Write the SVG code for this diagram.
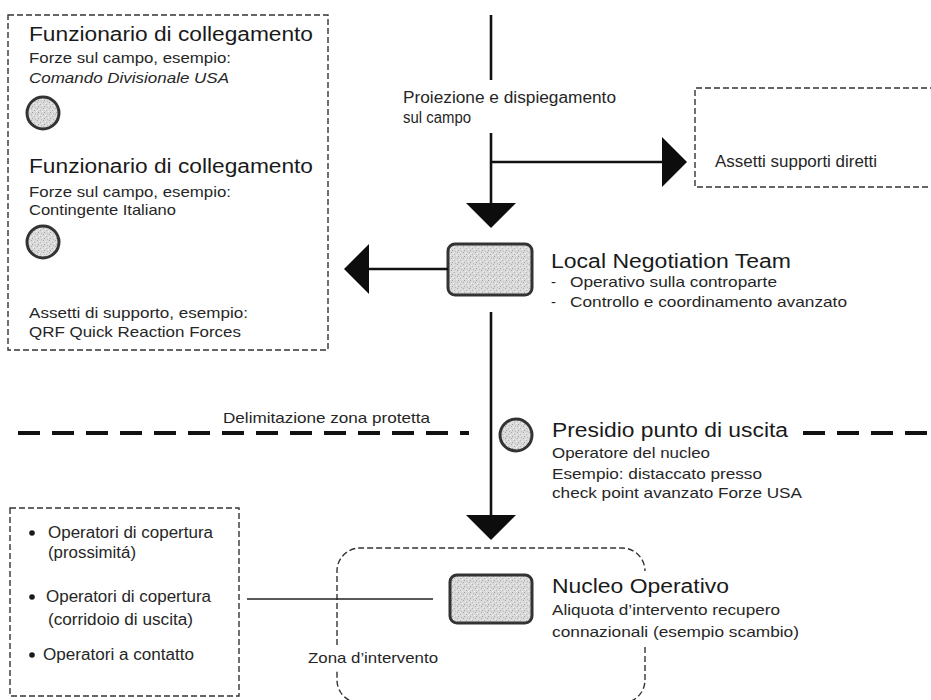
<svg xmlns="http://www.w3.org/2000/svg" width="931" height="700" viewBox="0 0 931 700">
  <defs>
    <style>
      text { font-family: "Liberation Sans", Arial, sans-serif; fill: #1a1a1a; }
      .t { font-size: 20px; }
      .s { font-size: 15px; fill: #262626; }
      .m { font-size: 16px; fill: #262626; }
      .dash { fill: none; stroke: #333; stroke-width: 1.4; stroke-dasharray: 6 3; }
      .line { fill: none; stroke: #111; stroke-width: 2.6; }
      .thin { fill: none; stroke: #222; stroke-width: 1.5; }
      .border { fill: none; stroke: #111; stroke-width: 4; stroke-dasharray: 22 12; }
      .unit { fill: url(#grain); stroke: #333; stroke-width: 3; }
      .post { fill: url(#grain); stroke: #333; stroke-width: 3; }
      .dot { fill: #1a1a1a; }
    </style>
    <!-- stippled grey fill used for units and posts -->
    <pattern id="grain" width="6" height="6" patternUnits="userSpaceOnUse">
      <rect width="6" height="6" fill="#dadada"/>
      <rect x="1" y="0" width="1" height="1" fill="#a9a9a9"/>
      <rect x="4" y="2" width="1" height="1" fill="#b4b4b4"/>
      <rect x="2" y="4" width="1" height="1" fill="#a0a0a0"/>
      <rect x="5" y="5" width="1" height="1" fill="#bcbcbc"/>
      <rect x="0" y="3" width="1" height="1" fill="#f2f2f2"/>
      <rect x="3" y="1" width="1" height="1" fill="#f0f0f0"/>
    </pattern>
    <marker id="head" viewBox="0 0 25 50" refX="0" refY="25" markerWidth="25" markerHeight="50" markerUnits="userSpaceOnUse" orient="auto">
      <path d="M0,0 L25,25 L0,50 Z" fill="#0d0d0d"/>
    </marker>
  </defs>

  <rect width="931" height="700" fill="#ffffff"/>

  <!-- liaison officers panel -->
  <g id="liaison">
    <rect class="dash" x="8" y="15" width="320" height="335"/>
    <text class="t" x="29" y="41" font-size="19" textLength="284" lengthAdjust="spacingAndGlyphs">Funzionario di collegamento</text>
    <text class="s" x="29" y="63" textLength="202" lengthAdjust="spacingAndGlyphs">Forze sul campo, esempio:</text>
    <text class="s" x="29" y="83" font-style="italic" textLength="200" lengthAdjust="spacingAndGlyphs">Comando Divisionale USA</text>
    <circle class="post" cx="43" cy="113" r="16"/>
    <text class="t" x="29" y="173" font-size="19" textLength="284" lengthAdjust="spacingAndGlyphs">Funzionario di collegamento</text>
    <text class="s" x="29" y="197" textLength="202" lengthAdjust="spacingAndGlyphs">Forze sul campo, esempio:</text>
    <text class="s" x="29" y="215" textLength="147" lengthAdjust="spacingAndGlyphs">Contingente Italiano</text>
    <circle class="post" cx="43" cy="242" r="16"/>
    <text class="s" x="29" y="318" textLength="219" lengthAdjust="spacingAndGlyphs">Assetti di supporto, esempio:</text>
    <text class="s" x="29" y="337" textLength="212" lengthAdjust="spacingAndGlyphs">QRF Quick Reaction Forces</text>
  </g>

  <!-- deployment label -->
  <g id="deployment">
    <text class="m" x="403" y="103" textLength="213" lengthAdjust="spacingAndGlyphs">Proiezione e dispiegamento</text>
    <text class="m" x="403" y="123" textLength="68" lengthAdjust="spacingAndGlyphs">sul campo</text>
  </g>

  <!-- direct support assets -->
  <g id="direct-support">
    <path class="dash" d="M936 88 H695 V187 H936"/>
    <text class="m" x="715" y="167" textLength="162" lengthAdjust="spacingAndGlyphs">Assetti supporti diretti</text>
  </g>

  <!-- local negotiation team -->
  <g id="lnt">
    <rect class="unit" x="448" y="244" width="84" height="51" rx="7"/>
    <text class="t" x="551" y="268" font-size="21" textLength="240" lengthAdjust="spacingAndGlyphs">Local Negotiation Team</text>
    <text class="s" x="551" y="287">-</text>
    <text class="s" x="570" y="287" textLength="207" lengthAdjust="spacingAndGlyphs">Operativo sulla controparte</text>
    <text class="s" x="551" y="307">-</text>
    <text class="s" x="570" y="307" textLength="277" lengthAdjust="spacingAndGlyphs">Controllo e coordinamento avanzato</text>
  </g>

  <!-- protected zone boundary -->
  <g id="boundary">
    <path class="border" d="M18 433 H469 M803 433 H931"/>
    <text class="s" x="223" y="423" textLength="207" lengthAdjust="spacingAndGlyphs">Delimitazione zona protetta</text>
  </g>

  <!-- exit point post -->
  <g id="exit-post">
    <circle class="post" cx="516" cy="435" r="16"/>
    <text class="t" x="552" y="437" textLength="236" lengthAdjust="spacingAndGlyphs">Presidio punto di uscita</text>
    <text class="s" x="552" y="458" textLength="158" lengthAdjust="spacingAndGlyphs">Operatore del nucleo</text>
    <text class="s" x="552" y="479" textLength="210" lengthAdjust="spacingAndGlyphs">Esempio: distaccato presso</text>
    <text class="s" x="552" y="498" textLength="250" lengthAdjust="spacingAndGlyphs">check point avanzato Forze USA</text>
  </g>

  <!-- intervention zone -->
  <g id="zone">
    <path class="dash" d="M337 645 V571 A23 23 0 0 1 360 548 H622 A23 23 0 0 1 645 571 M645 647 V680 A23 23 0 0 1 622 703 H360 A23 23 0 0 1 337 680 V670"/>
    <text class="s" x="308" y="663" textLength="130" lengthAdjust="spacingAndGlyphs">Zona d’intervento</text>
  </g>

  <!-- operational core -->
  <g id="core">
    <rect class="unit" x="450" y="575" width="82" height="48" rx="7"/>
    <text class="t" x="552" y="593" textLength="177" lengthAdjust="spacingAndGlyphs">Nucleo Operativo</text>
    <text class="s" x="552" y="615" textLength="228" lengthAdjust="spacingAndGlyphs">Aliquota d’intervento recupero</text>
    <text class="s" x="552" y="637" textLength="247" lengthAdjust="spacingAndGlyphs">connazionali (esempio scambio)</text>
  </g>

  <!-- cover and contact operators -->
  <g id="operators">
    <rect class="dash" x="10" y="508" width="229" height="188"/>
    <circle class="dot" cx="32" cy="533" r="2.8"/>
    <text class="m" x="48" y="538" textLength="165" lengthAdjust="spacingAndGlyphs">Operatori di copertura</text>
    <text class="m" x="48" y="558" textLength="88" lengthAdjust="spacingAndGlyphs">(prossimitá)</text>
    <circle class="dot" cx="32" cy="597" r="2.8"/>
    <text class="m" x="46" y="602" textLength="165" lengthAdjust="spacingAndGlyphs">Operatori di copertura</text>
    <text class="m" x="48" y="625" textLength="145" lengthAdjust="spacingAndGlyphs">(corridoio di uscita)</text>
    <circle class="dot" cx="32" cy="655" r="2.8"/>
    <text class="m" x="43" y="660" textLength="151" lengthAdjust="spacingAndGlyphs">Operatori a contatto</text>
  </g>

  <!-- connectors -->
  <g id="connectors">
    <path class="line" d="M491 15 V80"/>
    <path class="line" d="M491 133 V203" marker-end="url(#head)"/>
    <path class="line" d="M491 162 H662" marker-end="url(#head)"/>
    <path class="line" d="M448 269 H369" marker-end="url(#head)"/>
    <path class="line" d="M491 312 V515" marker-end="url(#head)"/>
    <path class="thin" d="M247 599 H433"/>
  </g>
</svg>
